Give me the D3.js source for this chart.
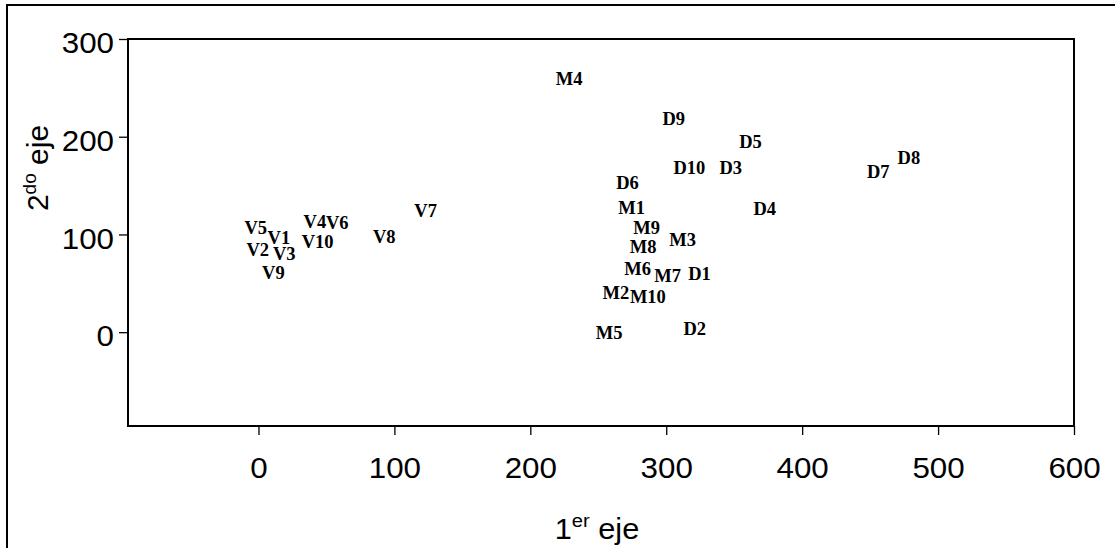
<!DOCTYPE html>
<html>
<head>
<meta charset="utf-8">
<script src="https://cdn.jsdelivr.net/npm/d3@7/dist/d3.min.js"></script>
<style>
  html, body { margin: 0; padding: 0; background: #fff; }
  svg { display: block; }
</style>
</head>
<body>
<svg id="chart" width="1115" height="548"></svg>
<script>
// Point labels and their coordinates on the first and second axes
const labels = ["V1","V2","V3","V4","V5","V6","V7","V8","V9","V10",
                "M1","M2","M3","M4","M5","M6","M7","M8","M9","M10",
                "D1","D2","D3","D4","D5","D6","D7","D8","D9","D10"];
const axis1 = [15, -0.5, 19, 41.5, -2, 58, 123, 92.5, 11, 43.5,
               274.5, 263, 312, 228.5, 258, 279, 301, 283, 285.5, 286.5,
               324.5, 321, 347.5, 372.5, 362, 271.5, 456, 478.5, 305.5, 317];
const axis2 = [96.5, 84.5, 80.5, 113.5, 106.5, 112.5, 124, 97.5, 60.5, 92.5,
               127.5, 40.5, 94.5, 259, -1, 65, 58, 87.5, 106.5, 36.5,
               59.5, 3.5, 168.5, 126, 195, 153, 164.5, 178.5, 218.5, 168];
const xTicks = [0, 100, 200, 300, 400, 500, 600];
const yTicks = [0, 100, 200, 300];

const svg = d3.select("#chart");
const plotLeft = 128, plotRight = 1074, plotTop = 39, plotBottom = 426;

const x = d3.scaleLinear().domain([-96, 600]).range([plotLeft, plotRight]);
const y = d3.scaleLinear().domain([-96, 300]).range([plotBottom, plotTop]);

// outer frame of the figure
svg.append("path")
  .attr("d", `M7,${548 + 2}V5H${1115 + 2}`)
  .attr("fill", "none").attr("stroke", "#000").attr("stroke-width", 2);

const tickFont = "'Liberation Sans', Arial, sans-serif";
const wide = "scale(1.08,1)";

// x axis
const gx = svg.append("g")
  .attr("transform", `translate(0,${plotBottom})`)
  .call(d3.axisBottom(x).tickValues(xTicks).tickSize(9).tickSizeOuter(0).tickPadding(22));
gx.select(".domain").remove();
gx.selectAll(".tick line").attr("stroke", "#000").attr("stroke-width", 1.3);
gx.selectAll(".tick text").attr("font-family", tickFont).attr("font-size", 29)
  .attr("fill", "#000").attr("transform", wide);

// y axis
const gy = svg.append("g")
  .attr("transform", `translate(${plotLeft},0)`)
  .call(d3.axisLeft(y).tickValues(yTicks).tickSize(9).tickSizeOuter(0).tickPadding(5));
gy.select(".domain").remove();
gy.selectAll(".tick line").attr("stroke", "#000").attr("stroke-width", 1.3);
gy.selectAll(".tick text").attr("font-family", tickFont).attr("font-size", 29)
  .attr("fill", "#000").attr("dy", "0.47em")
  .attr("x", -14 / 1.08).attr("transform", wide);

// plot frame
svg.append("rect")
  .attr("x", plotLeft).attr("y", plotTop)
  .attr("width", plotRight - plotLeft).attr("height", plotBottom - plotTop)
  .attr("fill", "none").attr("stroke", "#000").attr("stroke-width", 2);

// point labels
const pts = labels.map((name, i) => ({ name, a: axis1[i], b: axis2[i] }));
svg.append("g")
  .selectAll("text")
  .data(pts)
  .join("text")
  .attr("x", d => x(d.a))
  .attr("y", d => y(d.b))
  .attr("dy", "0.34em")
  .attr("text-anchor", "middle")
  .attr("font-family", "'Liberation Serif', 'Times New Roman', serif")
  .attr("font-weight", "bold")
  .attr("font-size", 18.5)
  .attr("fill", "#000")
  .text(d => d.name);

// axis titles
const xt = svg.append("text")
  .attr("transform", "translate(597,539) scale(1.06,1)")
  .attr("text-anchor", "middle")
  .attr("font-family", tickFont).attr("font-size", 29).attr("fill", "#000");
xt.append("tspan").text("1");
xt.append("tspan").attr("font-size", 19).attr("dy", -12).text("er");
xt.append("tspan").attr("dy", 12).text(" eje");

const yt = svg.append("text")
  .attr("transform", "translate(48,168) rotate(-90)")
  .attr("text-anchor", "middle")
  .attr("font-family", tickFont).attr("font-size", 30).attr("fill", "#000");
yt.append("tspan").text("2");
yt.append("tspan").attr("font-size", 19).attr("dy", -12).text("do");
yt.append("tspan").attr("dy", 12).text(" eje");
</script>
</body>
</html>
